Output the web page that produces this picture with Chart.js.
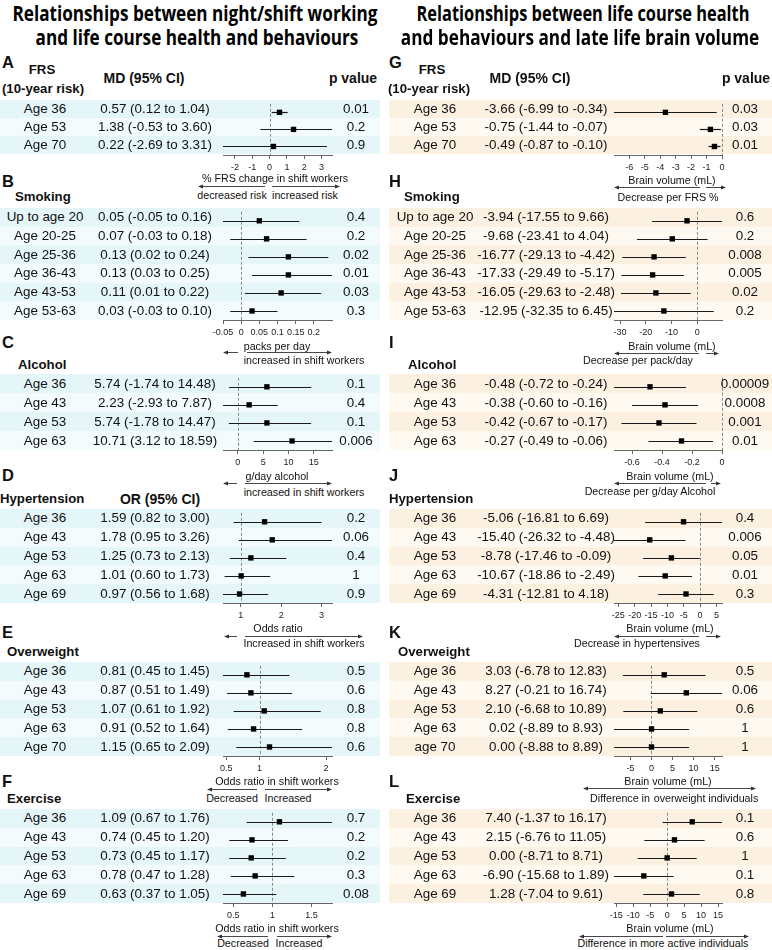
<!DOCTYPE html>
<html lang="en">
<head>
<meta charset="UTF-8">
<meta name="viewport" content="width=device-width, initial-scale=1.0">
<title>Night/shift work, life course health and brain volume</title>
<script src="https://cdn.jsdelivr.net/npm/chart.js"></script>
<style>
  body { margin: 0; width: 772px; height: 950px; position: relative; overflow: hidden; background: #fff;
         font-family: "Liberation Sans", Arial, Helvetica, sans-serif; color: #111; }
  .band, .txt, canvas, svg { position: absolute; }
  .txt { white-space: nowrap; line-height: 1; }
  .ttl { font-family: "Open Sans", sans-serif; font-weight: 700; font-size: 21px; color: #000; }
</style>
</head>
<body>
<script>
// A: FRS in shift workers
const frsAges = ['Age 36', 'Age 53', 'Age 70'];
const frsShiftMd = [0.57, 1.38, 0.22];
const frsShiftLo = [0.12, -0.53, -2.69];
const frsShiftHi = [1.04, 3.60, 3.31];
const frsShiftP = ['0.01', '0.2', '0.9'];
const frsShiftTicks = [-2, -1, 0, 1, 2, 3];

// B: smoking (packs/day)
const smokeAges = ['Up to age 20', 'Age 20-25', 'Age 25-36', 'Age 36-43', 'Age 43-53', 'Age 53-63'];
const smokeShiftMd = [0.05, 0.07, 0.13, 0.13, 0.11, 0.03];
const smokeShiftLo = [-0.05, -0.03, 0.02, 0.03, 0.01, -0.03];
const smokeShiftHi = [0.16, 0.18, 0.24, 0.25, 0.22, 0.10];
const smokeShiftP = ['0.4', '0.2', '0.02', '0.01', '0.03', '0.3'];
const smokeShiftTicks = [-0.05, 0, 0.05, 0.1, 0.15, 0.2];

// C: alcohol (g/day)
const alcAges = ['Age 36', 'Age 43', 'Age 53', 'Age 63'];
const alcShiftMd = [5.74, 2.23, 5.74, 10.71];
const alcShiftLo = [-1.74, -2.93, -1.78, 3.12];
const alcShiftHi = [14.48, 7.87, 14.47, 18.59];
const alcShiftP = ['0.1', '0.4', '0.1', '0.006'];
const alcShiftTicks = [0, 5, 10, 15];

// D: hypertension (odds ratio)
const bpAges = ['Age 36', 'Age 43', 'Age 53', 'Age 63', 'Age 69'];
const bpShiftOr = [1.59, 1.78, 1.25, 1.01, 0.97];
const bpShiftLo = [0.82, 0.95, 0.73, 0.60, 0.56];
const bpShiftHi = [3.00, 3.26, 2.13, 1.73, 1.68];
const bpShiftP = ['0.2', '0.06', '0.4', '1', '0.9'];
const bpShiftTicks = [1, 2, 3];

// E: overweight (odds ratio)
const bmiAges = ['Age 36', 'Age 43', 'Age 53', 'Age 63', 'Age 70'];
const bmiShiftOr = [0.81, 0.87, 1.07, 0.91, 1.15];
const bmiShiftLo = [0.45, 0.51, 0.61, 0.52, 0.65];
const bmiShiftHi = [1.45, 1.49, 1.92, 1.64, 2.09];
const bmiShiftP = ['0.5', '0.6', '0.8', '0.8', '0.6'];
const bmiShiftTicks = [0.5, 1, 2];

// F: exercise (odds ratio)
const exAges = ['Age 36', 'Age 43', 'Age 53', 'Age 63', 'Age 69'];
const exShiftOr = [1.09, 0.74, 0.73, 0.78, 0.63];
const exShiftLo = [0.67, 0.45, 0.45, 0.47, 0.37];
const exShiftHi = [1.76, 1.20, 1.17, 1.28, 1.05];
const exShiftP = ['0.7', '0.2', '0.2', '0.3', '0.08'];
const exShiftTicks = [0.5, 1, 1.5];

// G-L: brain volume (mL)
const frsBrainMd = [-3.66, -0.75, -0.49];
const frsBrainLo = [-6.99, -1.44, -0.87];
const frsBrainHi = [-0.34, -0.07, -0.10];
const frsBrainP = ['0.03', '0.03', '0.01'];
const frsBrainTicks = [-6, -5, -4, -3, -2, -1, 0];

const smokeBrainMd = [-3.94, -9.68, -16.77, -17.33, -16.05, -12.95];
const smokeBrainLo = [-17.55, -23.41, -29.13, -29.49, -29.63, -32.35];
const smokeBrainHi = [9.66, 4.04, -4.42, -5.17, -2.48, 6.45];
const smokeBrainP = ['0.6', '0.2', '0.008', '0.005', '0.02', '0.2'];
const smokeBrainTicks = [-30, -20, -10, 0];

const alcBrainMd = [-0.48, -0.38, -0.42, -0.27];
const alcBrainLo = [-0.72, -0.60, -0.67, -0.49];
const alcBrainHi = [-0.24, -0.16, -0.17, -0.06];
const alcBrainP = ['0.00009', '0.0008', '0.001', '0.01'];
const alcBrainTicks = [-0.6, -0.4, -0.2, 0];

const bpBrainMd = [-5.06, -15.40, -8.78, -10.67, -4.31];
const bpBrainLo = [-16.81, -26.32, -17.46, -18.86, -12.81];
const bpBrainHi = [6.69, -4.48, -0.09, -2.49, 4.18];
const bpBrainP = ['0.4', '0.006', '0.05', '0.01', '0.3'];
const bpBrainTicks = [-25, -20, -15, -10, -5, 0, 5];

const bmiBrainAges = ['Age 36', 'Age 43', 'Age 53', 'Age 63', 'age 70'];
const bmiBrainMd = [3.03, 8.27, 2.10, 0.02, 0.00];
const bmiBrainLo = [-6.78, -0.21, -6.68, -8.89, -8.88];
const bmiBrainHi = [12.83, 16.74, 10.89, 8.93, 8.89];
const bmiBrainP = ['0.5', '0.06', '0.6', '1', '1'];
const bmiBrainTicks = [-5, 0, 5, 10, 15];

const exBrainMd = [7.40, 2.15, 0.00, -6.90, 1.28];
const exBrainLo = [-1.37, -6.76, -8.71, -15.68, -7.04];
const exBrainHi = [16.17, 11.05, 8.71, 1.89, 9.61];
const exBrainP = ['0.1', '0.6', '1', '0.1', '0.8'];
const exBrainTicks = [-15, -10, -5, 0, 5, 10, 15];

// ---- layout
const FONT = '"Liberation Sans", Arial, Helvetica, sans-serif';
Chart.defaults.font.family = FONT;

const LEFT = { plotL: 223, plotR: 332, bgL: 0, bgR: 380, labelX: 45, ciX: 155, pX: 356, letterX: 2, fill: ['#e5f6f9', '#f3fbfc'] };
const RIGHT = { plotL: 614, plotR: 722, bgL: 389, bgR: 772, labelX: 435, ciX: 546, pX: 745, letterX: 389, fill: ['#fcf1e1', '#fef9f1'] };
const bands = [[99.5, 154], [208, 320], [374, 450], [509, 603], [662, 756], [809, 903]];
const letterY = [62, 181, 342, 475, 632, 781];
const AXIS_H = 18;

const panels = [
  { col: LEFT, letter: 'A', row: 0, labels: frsAges, est: frsShiftMd, lo: frsShiftLo, hi: frsShiftHi, p: frsShiftP, ticks: frsShiftTicks, ref: 0 },
  { col: LEFT, letter: 'B', row: 1, labels: smokeAges, est: smokeShiftMd, lo: smokeShiftLo, hi: smokeShiftHi, p: smokeShiftP, ticks: smokeShiftTicks, ref: 0 },
  { col: LEFT, letter: 'C', row: 2, labels: alcAges, est: alcShiftMd, lo: alcShiftLo, hi: alcShiftHi, p: alcShiftP, ticks: alcShiftTicks, ref: 0 },
  { col: LEFT, letter: 'D', row: 3, labels: bpAges, est: bpShiftOr, lo: bpShiftLo, hi: bpShiftHi, p: bpShiftP, ticks: bpShiftTicks, ref: 1 },
  { col: LEFT, letter: 'E', row: 4, labels: bmiAges, est: bmiShiftOr, lo: bmiShiftLo, hi: bmiShiftHi, p: bmiShiftP, ticks: bmiShiftTicks, ref: 1 },
  { col: LEFT, letter: 'F', row: 5, labels: exAges, est: exShiftOr, lo: exShiftLo, hi: exShiftHi, p: exShiftP, ticks: exShiftTicks, ref: 1 },
  { col: RIGHT, letter: 'G', row: 0, labels: frsAges, est: frsBrainMd, lo: frsBrainLo, hi: frsBrainHi, p: frsBrainP, ticks: frsBrainTicks, ref: 0 },
  { col: RIGHT, letter: 'H', row: 1, labels: smokeAges, est: smokeBrainMd, lo: smokeBrainLo, hi: smokeBrainHi, p: smokeBrainP, ticks: smokeBrainTicks, ref: 0 },
  { col: RIGHT, letter: 'I', row: 2, labels: alcAges, est: alcBrainMd, lo: alcBrainLo, hi: alcBrainHi, p: alcBrainP, ticks: alcBrainTicks, ref: 0 },
  { col: RIGHT, letter: 'J', row: 3, labels: bpAges, est: bpBrainMd, lo: bpBrainLo, hi: bpBrainHi, p: bpBrainP, ticks: bpBrainTicks, ref: 0 },
  { col: RIGHT, letter: 'K', row: 4, labels: bmiBrainAges, est: bmiBrainMd, lo: bmiBrainLo, hi: bmiBrainHi, p: bmiBrainP, ticks: bmiBrainTicks, ref: 0 },
  { col: RIGHT, letter: 'L', row: 5, labels: exAges, est: exBrainMd, lo: exBrainLo, hi: exBrainHi, p: exBrainP, ticks: exBrainTicks, ref: 0 }
];

// headers: [x, y, text, options]
const HB = { bold: true, size: 13.2 };
const HC = { bold: true, size: 14 };
const headers = [
  [42, 70, 'FRS', HB], [43, 89, '(10-year risk)', HB], [144, 78, 'MD (95% CI)', HC], [353, 78, 'p value', HC],
  [15, 197, 'Smoking', Object.assign({ align: 'left' }, HB)],
  [18, 365, 'Alcohol', Object.assign({ align: 'left' }, HB)],
  [0, 499, 'Hypertension', Object.assign({ align: 'left' }, HB)], [160, 499, 'OR (95% CI)', HC],
  [7, 652, 'Overweight', Object.assign({ align: 'left' }, HB)],
  [7, 799, 'Exercise', Object.assign({ align: 'left' }, HB)],
  [432, 70, 'FRS', HB], [429, 89, '(10-year risk)', HB], [530, 78, 'MD (95% CI)', HC], [746, 78, 'p value', HC],
  [404, 197, 'Smoking', Object.assign({ align: 'left' }, HB)],
  [408, 365, 'Alcohol', Object.assign({ align: 'left' }, HB)],
  [389, 499, 'Hypertension', Object.assign({ align: 'left' }, HB)],
  [398, 652, 'Overweight', Object.assign({ align: 'left' }, HB)],
  [406, 799, 'Exercise', Object.assign({ align: 'left' }, HB)]
];

// axis titles and direction notes
const AN = { size: 10.7 };
const notes = [
  [275, 178, '% FRS change in shift workers'], [232, 195, 'decreased risk'], [305, 195, 'increased risk'],
  [277, 346, 'packs per day'], [304, 360, 'increased in shift workers'],
  [277, 476, 'g/day alcohol'], [304, 492, 'increased in shift workers'],
  [278, 628, 'Odds ratio'], [304, 643, 'Increased in shift workers'],
  [277, 781, 'Odds ratio in shift workers'], [232, 798, 'Decreased'], [288, 798, 'Increased'],
  [277, 928, 'Odds ratio in shift workers'], [243, 943, 'Decreased'], [299, 943, 'Increased'],
  [672, 180, 'Brain volume (mL)'], [668, 197, 'Decrease per FRS %'],
  [672, 346, 'Brain volume (mL)'], [638, 360, 'Decrease per pack/day'],
  [670, 476, 'Brain volume (mL)'], [650, 491, 'Decrease per g/day Alcohol'],
  [670, 628, 'Brain volume (mL)'], [637, 643, 'Decrease in hypertensives'],
  [668, 781, 'Brain volume (mL)'], [620, 798, 'Difference in'], [706, 798, 'overweight individuals'],
  [670, 928, 'Brain volume (mL)'], [621, 943, 'Difference in more'], [708, 943, 'active individuals']
];

// arrows: [from x, to x (head), y]
const arrows = [
  [265, 198, 186], [272, 340, 186],
  [238, 223, 352], [247, 332, 352],
  [237, 223, 483], [245, 332, 483],
  [237, 224, 636], [245, 363, 636],
  [257, 207, 789], [265, 332, 789],
  [268, 217, 936], [277, 332, 936],
  [700, 614, 187], [706, 726, 187],
  [699, 614, 353], [706, 719, 353],
  [706, 614, 483], [711, 721, 483],
  [699, 614, 636], [706, 721, 636],
  [648, 583, 788], [654, 756, 788],
  [663, 579, 936], [666, 749, 936]
];

function text(x, y, str, o) {
  o = o || {};
  const d = document.createElement('div');
  d.className = 'txt' + (o.cls ? ' ' + o.cls : '');
  d.textContent = str;
  d.style.left = x + 'px';
  d.style.top = y + 'px';
  if (!o.cls) d.style.fontSize = (o.size || 13.4) + 'px';
  if (o.bold) d.style.fontWeight = 'bold';
  const tx = o.align === 'left' ? '0' : o.align === 'right' ? '-100%' : '-50%';
  d.style.transform = 'translate(' + tx + ',-50%)';
  document.body.appendChild(d);
  return d;
}

function title(x, y, str, w) {
  const d = text(x, y, str, { cls: 'ttl' });
  d.style.transform = 'translate(-50%,-50%) scaleX(' + (w / d.offsetWidth) + ')';
}

const fmt = v => v.toFixed(2);

panels.forEach(p => {
  const c = p.col;
  const n = p.labels.length;
  const top = bands[p.row][0], bottom = bands[p.row][1];
  const rowH = (bottom - top) / n;

  for (let i = 0; i < n; i++) {
    const y0 = Math.round(top + i * rowH), y1 = Math.round(top + (i + 1) * rowH);
    const d = document.createElement('div');
    d.className = 'band';
    d.style.cssText = 'left:' + c.bgL + 'px;width:' + (c.bgR - c.bgL) + 'px;top:' + y0 + 'px;height:' + (y1 - y0) + 'px;background:' + c.fill[i % 2];
    document.body.appendChild(d);
  }

  const cv = document.createElement('canvas');
  const pad = 30;
  cv.width = c.plotR - c.plotL + 2 * pad;
  cv.height = Math.round(bottom - top) + AXIS_H;
  cv.style.left = (c.plotL - pad) + 'px';
  cv.style.top = top + 'px';
  document.body.appendChild(cv);

  const forest = {
    id: 'forest',
    beforeDatasetsDraw(chart) {
      const { ctx, chartArea, scales } = chart;
      const x = scales.x, y = scales.y;
      ctx.save();
      const rx = Math.round(x.getPixelForValue(p.ref)) + 0.5;
      ctx.strokeStyle = '#8a8a8a';
      ctx.lineWidth = 1;
      ctx.setLineDash([3, 2]);
      ctx.beginPath();
      ctx.moveTo(rx, chartArea.top);
      ctx.lineTo(rx, chartArea.bottom);
      ctx.stroke();
      ctx.setLineDash([]);
      ctx.strokeStyle = '#1a1a1a';
      ctx.lineWidth = 1.2;
      p.lo.forEach((lo, i) => {
        const yy = Math.round(y.getPixelForValue(i)) + 0.5;
        ctx.beginPath();
        ctx.moveTo(x.getPixelForValue(lo), yy);
        ctx.lineTo(x.getPixelForValue(p.hi[i]), yy);
        ctx.stroke();
      });
      ctx.restore();
    }
  };

  new Chart(cv, {
    type: 'scatter',
    data: {
      datasets: [{
        data: p.est.map((v, i) => ({ x: v, y: i })),
        pointStyle: 'rect',
        pointRadius: 3.8,
        pointHoverRadius: 3.8,
        backgroundColor: '#000',
        borderWidth: 0,
        clip: false
      }]
    },
    options: {
      responsive: false,
      animation: false,
      devicePixelRatio: 1,
      events: [],
      layout: { padding: { left: pad, right: pad, top: 0, bottom: 0 } },
      plugins: { legend: { display: false }, tooltip: { enabled: false } },
      scales: {
        x: {
          type: 'linear',
          min: Math.min(p.ref, ...p.lo),
          max: Math.max(p.ref, ...p.hi),
          afterBuildTicks: s => { s.ticks = p.ticks.map(v => ({ value: v })); },
          afterFit: s => { s.height = AXIS_H; },
          grid: { display: true, drawOnChartArea: false, drawTicks: true, tickLength: 4, tickColor: '#666', tickWidth: 1 },
          border: { display: true, color: '#666', width: 1 },
          ticks: { font: { size: 9 }, color: '#222', padding: 3, autoSkip: false, minRotation: 0, maxRotation: 0, callback: v => String(v) }
        },
        y: { type: 'linear', min: -0.5, max: n - 0.5, reverse: true, display: false }
      }
    },
    plugins: [forest]
  });

  p.labels.forEach((lab, i) => {
    const yy = top + (i + 0.5) * rowH;
    text(c.labelX, yy, lab);
    text(c.ciX, yy, fmt(p.est[i]) + ' (' + fmt(p.lo[i]) + ' to ' + fmt(p.hi[i]) + ')');
    text(c.pX, yy, p.p[i]);
  });

  text(c.letterX, letterY[p.row], p.letter, { bold: true, size: 16.5, align: 'left' });
});

headers.forEach(h => text(h[0], h[1], h[2], h[3]));
notes.forEach(a => text(a[0], a[1], a[2], AN));

title(195, 13, 'Relationships between night/shift working', 365);
title(197, 37, 'and life course health and behaviours', 323);
title(583, 13, 'Relationships between life course health', 333);
title(580, 37, 'and behaviours and late life brain volume', 358);

// direction arrows under the axes
const NS = 'http://www.w3.org/2000/svg';
const svg = document.createElementNS(NS, 'svg');
svg.setAttribute('width', 772);
svg.setAttribute('height', 950);
svg.style.left = '0px';
svg.style.top = '0px';
arrows.forEach(a => {
  const dir = Math.sign(a[1] - a[0]);
  const y = a[2] + 0.5;
  const ln = document.createElementNS(NS, 'line');
  ln.setAttribute('x1', a[0]); ln.setAttribute('x2', a[1] - dir * 4);
  ln.setAttribute('y1', y); ln.setAttribute('y2', y);
  ln.setAttribute('stroke', '#333'); ln.setAttribute('stroke-width', 0.9);
  svg.appendChild(ln);
  const hd = document.createElementNS(NS, 'polygon');
  hd.setAttribute('points', a[1] + ',' + y + ' ' + (a[1] - dir * 5) + ',' + (y - 2) + ' ' + (a[1] - dir * 5) + ',' + (y + 2));
  hd.setAttribute('fill', '#333');
  svg.appendChild(hd);
});
document.body.appendChild(svg);
</script>
</body>
</html>
